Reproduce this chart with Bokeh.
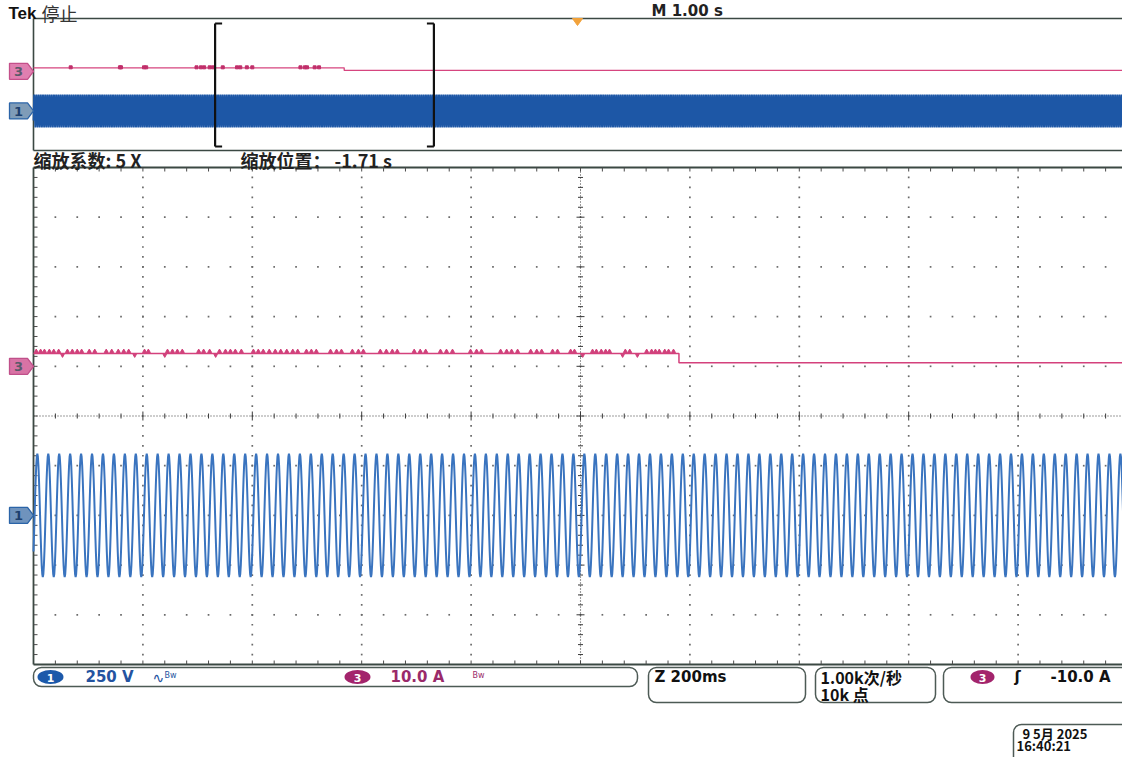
import numpy as np
from bokeh.plotting import figure
from bokeh.models import Range1d
from bokeh.core.properties import value
from bokeh.embed import file_html
from bokeh.resources import INLINE

# ---------------- values ----------------
main_sec_per_div = 1.00          # "M 1.00 s"
zoom_factor = 5                  # "缩放系数: 5 X"
zoom_start_s = 1.66              # left edge of the zoom window in the record
sample_rate = 1000               # "1.00k次/秒"
record_points = 10000            # "10k 点"
ch1_volts_per_div = 250.0        # "250 V"
ch3_amps_per_div = 10.0          # "10.0 A"
ch1_ground_div = -2.0
ch3_ground_div = 1.0

# one cycle of channel 1 (V) at 1 kS/s, starting at the positive peak
ch1_cycle_volts = [310, 295, 251, 182, 96, 0, -96, -182, -251, -295,
                   -310, -295, -251, -182, -96, 0, 96, 182, 251, 295]
ch1_first_peak_index = 1667

# channel 3 current (A), piecewise constant
ch3_times_s = [0.0, 2.84, 2.84, 10.0]
ch3_amps = [2.6, 2.6, 0.7, 0.7]

# small spikes on channel 3 (zoom window time, ms)
ch3_spikes_zoom_ms = [5, 13, 20, 29, 37, 46, 62, 71, 80, 88, 102, 112, 133, 143, 155, 165, 174,
                      203, 210, 245, 254, 263, 272, 302, 311, 322, 340, 351, 360, 369, 380,
                      402, 411, 420, 431, 442, 452, 463, 474, 483, 499, 508, 517, 543, 554, 563,
                      583, 594, 603, 634, 645, 656, 665, 696, 707, 717, 744, 755, 766, 799, 810,
                      819, 854, 865, 874, 885, 909, 920, 929, 949, 958, 982, 989, 1022, 1029,
                      1038, 1046, 1053, 1082, 1090, 1121, 1130, 1137, 1144, 1154, 1161, 1170]
ch3_dips_zoom_ms = [53, 185, 240, 333, 1004, 1077, 1104]
# spikes visible on the overview (record time, s)
ch3_spikes_overview_s = [0.34, 0.79, 0.80, 1.01, 1.03, 1.49, 1.53, 1.56, 1.61, 1.64, 1.73,
                         1.86, 1.89, 1.95, 2.00, 2.44, 2.48, 2.50, 2.57, 2.61]

# ---------------- screen geometry (page pixels) ----------------
W, H = 1122, 757
OFF = 0
SCR_LEFT = 33.0
DIV_W = 109.4
OV_CENTER, OV_DIV_H = 84.0, 13.2
MN_CENTER, MN_DIV_H = 415.5, 49.7

zoom_len_s = 10 * main_sec_per_div / zoom_factor
ms_div = zoom_len_s * 1000 / 10

p = figure(width=W, height=H, x_range=Range1d(OFF, OFF + W), y_range=Range1d(OFF + H, OFF),
           output_backend="svg", toolbar_location=None,
           x_axis_location=None, y_axis_location=None, min_border=0,
           outline_line_color=None, background_fill_color="#ffffff",
           border_fill_color="#ffffff")
p.grid.visible = False
p.extra_x_ranges = {
    "mx": Range1d((OFF - SCR_LEFT) / DIV_W * ms_div, (OFF + W - SCR_LEFT) / DIV_W * ms_div),
    "ox": Range1d((OFF - SCR_LEFT) / DIV_W * main_sec_per_div,
                  (OFF + W - SCR_LEFT) / DIV_W * main_sec_per_div),
}
p.extra_y_ranges = {
    "my": Range1d((MN_CENTER - (OFF + H)) / MN_DIV_H, (MN_CENTER - OFF) / MN_DIV_H),
    "oy": Range1d((OV_CENTER - (OFF + H)) / OV_DIV_H, (OV_CENTER - OFF) / OV_DIV_H),
}
M = dict(x_range_name="mx", y_range_name="my")
O = dict(x_range_name="ox", y_range_name="oy")


def mxl(px):
    return px / DIV_W * ms_div


def myl(px):
    return px / MN_DIV_H


def txt(x, y, s, size, color="#1a1a1a", font="DejaVu Sans", style="normal",
        align="left"):
    # y is the vertical centre of the text
    p.text(x=[x], y=[y], text=[s], text_font=value(font), text_font_size=f"{size}px",
           text_font_style=style, text_color=color, text_align=align,
           text_baseline="middle")


FRAME = "#3b4843"

# ---------------- overview ----------------
p.segment(x0=[0, 0, 0], y0=[-5, 5, -5], x1=[0, 10, 10], y1=[5, 5, -5],
          line_color=FRAME, line_width=1.6, **O)

idx = np.arange(record_points)
cyc = np.array(ch1_cycle_volts, dtype=float)
ch1_v = cyc[(idx - ch1_first_peak_index) % len(cyc)]
t_s = idx / sample_rate
p.line(t_s, ch1_ground_div + ch1_v / ch1_volts_per_div, line_color="#1d57a6",
       line_width=1.8, **O)

ch3_y = ch3_ground_div + np.array(ch3_amps) / ch3_amps_per_div
p.line(ch3_times_s, ch3_y, line_color="#d6457f", line_width=1.3, **O)


def ch3_level(t):
    lvl = ch3_amps[0]
    for tt, a in zip(ch3_times_s, ch3_amps):
        if tt <= t:
            lvl = a
    return lvl


ov_sp = np.array(ch3_spikes_overview_s)
p.scatter(ov_sp, [ch3_ground_div + ch3_level(t) / ch3_amps_per_div + 0.04 for t in ov_sp],
          marker="square", size=3, color="#c02f6a", **O)

# zoom bracket
z0, z1 = zoom_start_s, zoom_start_s + zoom_len_s
serif = 7 / DIV_W * main_sec_per_div
yt, yb = (OV_CENTER - 23) / OV_DIV_H, (OV_CENTER - 146) / OV_DIV_H
p.segment(x0=[z0, z0, z0, z1, z1, z1], y0=[yb, yt, yb, yb, yt, yb],
          x1=[z0, z0 + serif, z0 + serif, z1, z1 - serif, z1 - serif],
          y1=[yt, yt, yb, yt, yt, yb], line_color="#111111", line_width=2.2, **O)

# trigger marker
p.patch([572, 582, 577], [18, 18, 25], fill_color="#f2a23a", line_color="#f2a23a")

# ---------------- main (zoom) grid ----------------
sub_y = np.arange(-24, 25) / 5.0
vx = [k * ms_div for k in range(1, 10) if k != 5]
gx = np.repeat(vx, len(sub_y))
gy = np.tile(sub_y, len(vx))
sub_x = np.arange(1, 50) * ms_div / 5.0
hy = [j for j in range(-4, 5) if j != 0]
gx2 = np.tile(sub_x, len(hy))
gy2 = np.repeat(hy, len(sub_x))
p.scatter(np.concatenate([gx, gx2]), np.concatenate([gy, gy2]), marker="square",
          size=1.7, color="#6a6a6a", line_color=None, **M)

# center cross
p.segment(x0=[5 * ms_div, 0], y0=[-5, 0], x1=[5 * ms_div, 10 * ms_div], y1=[5, 0],
          line_color="#3a3a3a", line_width=1.1, line_dash="1 2", **M)
cx = 5 * ms_div
lens_y = np.array([4.0 if abs(v - round(v)) < 1e-9 else 2.5 for v in sub_y])
p.segment(x0=cx - mxl(lens_y), y0=sub_y, x1=cx + mxl(lens_y), y1=sub_y,
          line_color="#3a3a3a", line_width=1, **M)
lens_x = np.array([4.5 if (i % 5 == 0) else 2.5 for i in range(1, 50)])
p.segment(x0=sub_x, y0=-myl(lens_x), x1=sub_x, y1=myl(lens_x),
          line_color="#3a3a3a", line_width=1, **M)

# border + edge ticks
p.segment(x0=[0, 0, 0], y0=[-5, 5, -5], x1=[0, 10 * ms_div, 10 * ms_div], y1=[5, 5, -5],
          line_color=FRAME, line_width=1.8, **M)
p.segment(x0=np.zeros_like(sub_y), y0=sub_y, x1=np.full_like(sub_y, mxl(4)), y1=sub_y,
          line_color="#4a4a4a", line_width=1, **M)
p.segment(x0=sub_x, y0=np.full_like(sub_x, 5), x1=sub_x, y1=np.full_like(sub_x, 5 - myl(4)),
          line_color="#4a4a4a", line_width=1, **M)
p.segment(x0=sub_x, y0=np.full_like(sub_x, -5), x1=sub_x, y1=np.full_like(sub_x, -5 + myl(4)),
          line_color="#4a4a4a", line_width=1, **M)

# ---------------- main traces ----------------
sel = (t_s >= z0) & (t_s <= z1 + 0.01)
p.line((t_s[sel] - z0) * 1000, ch1_ground_div + ch1_v[sel] / ch1_volts_per_div,
       line_color="#3a74bf", line_width=2, **M)

mt = []
ma = []
for t, a in zip(ch3_times_s, ch3_amps):
    if z0 < t < z1:
        mt.append(t)
        ma.append(a)
mt = [z0] + mt + [z1]
ma = [ch3_level(z0)] + ma + [ch3_level(z1)]
p.line((np.array(mt) - z0) * 1000, ch3_ground_div + np.array(ma) / ch3_amps_per_div,
       line_color="#d4417c", line_width=1.5, **M)

sp = np.array(ch3_spikes_zoom_ms, dtype=float)
p.scatter(sp, [ch3_ground_div + ch3_level(z0 + t / 1000) / ch3_amps_per_div + myl(2) for t in sp],
          marker="triangle", size=4, color="#d0407a", **M)
dp = np.array(ch3_dips_zoom_ms, dtype=float)
p.scatter(dp, [ch3_ground_div + ch3_level(z0 + t / 1000) / ch3_amps_per_div - myl(2) for t in dp],
          marker="inverted_triangle", size=3.5, color="#d0407a", **M)

# ---------------- channel markers ----------------
def marker_shape(yc):
    return [9, 27, 33, 27, 9], [yc - 8, yc - 8, yc, yc + 8, yc + 8]


markers = [
    (OV_CENTER - ch3_ground_div * OV_DIV_H, "3", "#e07fb0", "#c4508a", "#5a5a6a"),
    (OV_CENTER - ch1_ground_div * OV_DIV_H, "1", "#7f9cb8", "#2b64a8", "#1d3f6e"),
    (MN_CENTER - ch3_ground_div * MN_DIV_H, "3", "#d873a5", "#c0508a", "#5a5a6a"),
    (MN_CENTER - ch1_ground_div * MN_DIV_H, "1", "#6f93bd", "#2b64a8", "#1d3f6e"),
]
for yc, lab, fc, lc, tc in markers:
    xs, ys = marker_shape(yc)
    p.patch(xs, ys, fill_color=fc, line_color=lc, line_width=1.3)
    txt(18, yc + 0.5, lab, 13, tc, "DejaVu Sans", "bold", "center")

# ---------------- texts ----------------
txt(8, 12.5, "Tek", 17, "#111111", "Liberation Sans", "bold")
txt(41, 12, "停止", 18, "#333333", "Noto Sans CJK SC")
txt(651, 10, "M 1.00 s", 15, "#222222", "DejaVu Sans", "bold")
txt(33, 159, "缩放系数: 5 X", 18, "#222222", "Noto Sans CJK SC", "bold")
txt(240, 159, "缩放位置： -1.71 s", 18, "#222222", "Noto Sans CJK SC", "bold")

# status bar
BOX = "#4d5a55"
p.quad(left=[33, 648, 815, 943, 1013], right=[637, 805, 935, 1140, 1140],
       top=[667, 667, 667, 667, 724], bottom=[686, 702, 702, 702, 775],
       border_radius=8, fill_color=None, line_color=BOX, line_width=1.5)
p.ellipse(x=[50, 357, 982], y=[676.5, 676.5, 676.5], width=[26, 26, 24], height=[14, 14, 14],
          fill_color=["#1c59aa", "#a3246c", "#a3246c"], line_color=None)
txt(50, 677, "1", 11, "#ffffff", "DejaVu Sans", "bold", "center")
txt(357, 677, "3", 11, "#ffffff", "DejaVu Sans", "bold", "center")
txt(982, 677, "3", 11, "#ffffff", "DejaVu Sans", "bold", "center")
txt(85, 676.5, "250 V", 15, "#2453a0", "DejaVu Sans", "bold")
txt(152, 677, "∿", 14, "#2453a0", "DejaVu Sans")
txt(164, 675, "Bw", 8, "#2453a0", "DejaVu Sans")
txt(390, 676.5, "10.0 A", 15, "#9a2a6a", "DejaVu Sans", "bold")
txt(472, 675, "Bw", 8, "#9a2a6a", "DejaVu Sans")
txt(654, 676, "Z 200ms", 15, "#111111", "DejaVu Sans", "bold")
txt(820, 676.5, "1.00k次/秒", 16, "#111111", "Noto Sans CJK SC", "bold")
txt(820, 693, "10k 点", 16, "#111111", "Noto Sans CJK SC", "bold")
txt(1014, 676, "ʃ", 15, "#111111", "DejaVu Sans", "bold")
txt(1050, 676, "-10.0 A", 15, "#111111", "DejaVu Sans", "bold")
txt(1022, 733, "9 5月 2025", 13, "#111111", "Noto Sans CJK SC", "bold")
txt(1016, 745, "16:40:21", 13, "#111111", "Noto Sans CJK SC", "bold")

open("out.html", "w").write(file_html(p, INLINE))
